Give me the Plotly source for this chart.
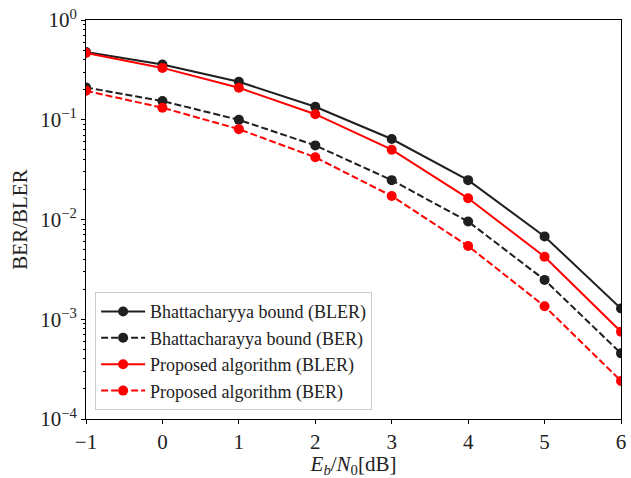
import plotly.graph_objects as go

snr = [-1, 0, 1, 2, 3, 4, 5, 6]
bhat_bler = [0.478, 0.358, 0.240, 0.135, 0.0641, 0.0248, 0.00677, 0.00128]
bhat_ber = [0.211, 0.154, 0.0998, 0.0553, 0.0248, 0.00955, 0.00248, 0.000455]
prop_bler = [0.467, 0.331, 0.209, 0.1137, 0.0501, 0.0163, 0.00424, 0.000749]
prop_ber = [0.195, 0.132, 0.0805, 0.042, 0.0172, 0.00542, 0.00135, 0.000241]

series = [
    ("Bhattacharyya bound (BLER)", bhat_bler, "#1f1f1f", "solid"),
    ("Bhattacharayya bound (BER)", bhat_ber, "#1f1f1f", "7px,3px"),
    ("Proposed algorithm (BLER)", prop_bler, "#ff0000", "solid"),
    ("Proposed algorithm (BER)", prop_ber, "#ff0000", "7px,3px"),
]

ytick_vals = [1e-4, 1e-3, 1e-2, 1e-1, 1]
ytick_text = ["10<sup>\u22124</sup>", "10<sup>\u22123</sup>", "10<sup>\u22122</sup>",
              "10<sup>\u22121</sup>", "10<sup>0</sup>"]
xtick_vals = [-1, 0, 1, 2, 3, 4, 5, 6]
xtick_text = ["\u22121", "0", "1", "2", "3", "4", "5", "6"]
minor_vals = [m * 10.0 ** e for e in range(-4, 0) for m in range(2, 10)]

fig = go.Figure()
for name, y, color, dash in series:
    fig.add_trace(go.Scatter(
        x=snr, y=y, name=name, mode="lines+markers",
        line=dict(color=color, width=2, dash=dash),
        marker=dict(color=color, size=10),
    ))

font_family = "Liberation Serif"
fig.update_layout(
    width=631, height=478,
    margin=dict(l=86, r=5, t=20, b=57),
    paper_bgcolor="white", plot_bgcolor="white",
    font=dict(family=font_family, size=18, color="#222222"),
    legend=dict(
        x=0.017, y=0.022, xanchor="left", yanchor="bottom",
        bgcolor="rgba(255,255,255,0.85)", bordercolor="#cccccc", borderwidth=1,
        font=dict(family=font_family, size=18, color="#222222"),
        tracegroupgap=0, itemwidth=44,
    ),
    xaxis=dict(
        range=[-1, 6], tickmode="array", tickvals=xtick_vals, ticktext=xtick_text,
        showgrid=False, zeroline=False, showline=True, linecolor="black", linewidth=1,
        mirror=True, ticks="outside", ticklen=4, tickcolor="black",
        tickfont=dict(size=21),
        title=dict(text="<i>E</i><sub><i>b</i></sub>/<i>N</i><sub>0</sub>[dB]",
                   font=dict(size=21), standoff=4),
    ),
    yaxis=dict(
        type="log", range=[-4, 0], tickmode="array", tickvals=ytick_vals, ticktext=ytick_text,
        showgrid=False, zeroline=False, showline=True, linecolor="black", linewidth=1,
        mirror=True, ticks="outside", ticklen=4, tickcolor="black",
        tickfont=dict(size=21),
        minor=dict(tickmode="array", tickvals=minor_vals, ticks="outside", ticklen=2.5,
                   tickcolor="black", showgrid=False),
        title=dict(text="BER/BLER", font=dict(size=21), standoff=6),
    ),
)

fig.write_html("out.html")
